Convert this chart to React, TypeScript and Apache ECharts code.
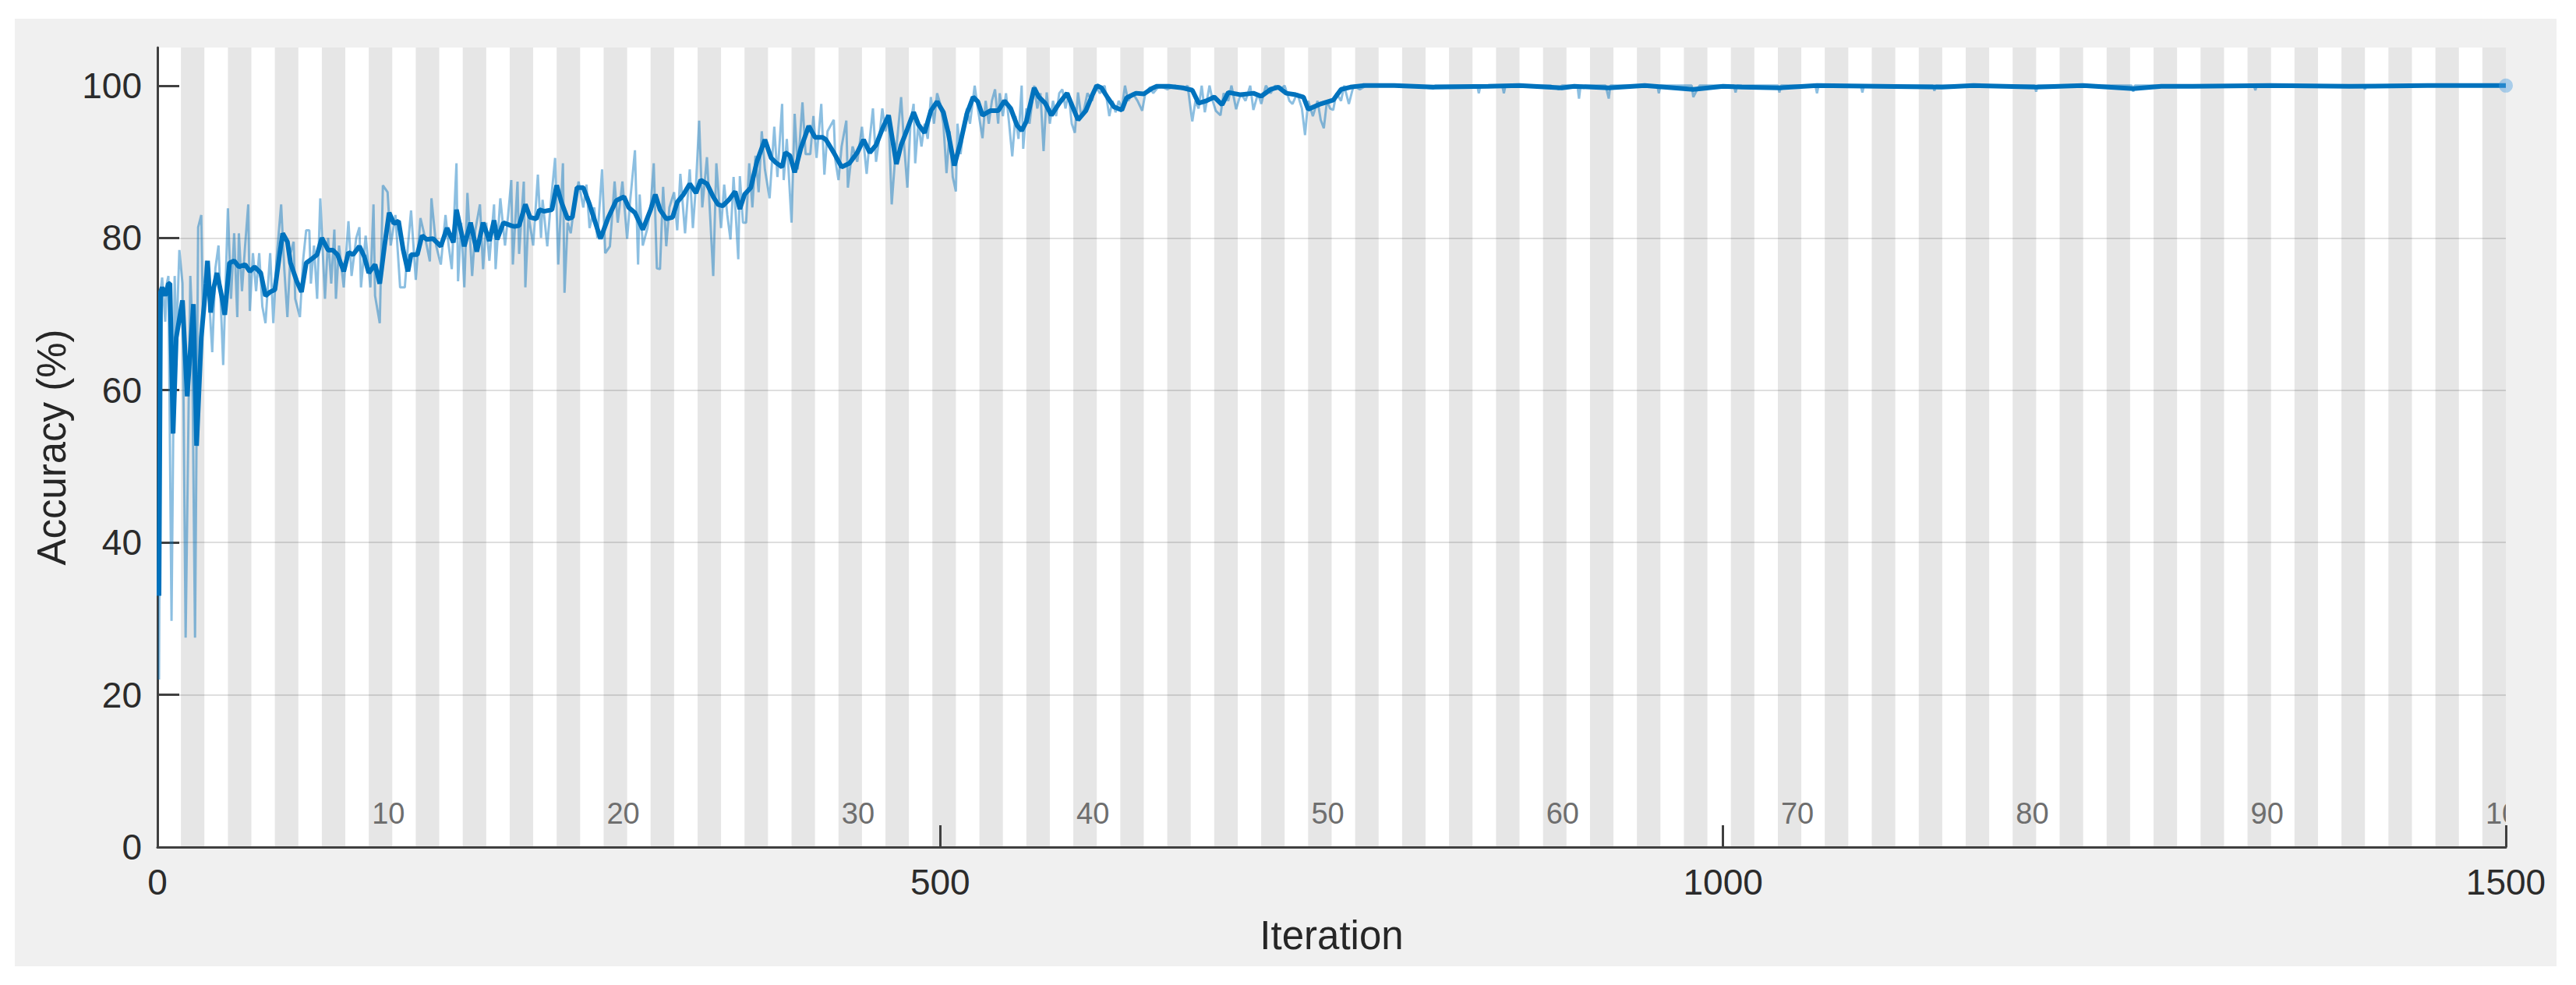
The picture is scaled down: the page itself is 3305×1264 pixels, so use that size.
import React, { useEffect, useRef } from "react";
import * as echarts from "echarts";

// ---- axes / epochs ----
const xMin = 0;
const xMax = 1500;
const xInterval = 500;
const yMin = 0;
const yMax = 105;
const yInterval = 20;
const yTickValues = [0, 20, 40, 60, 80, 100];
const epochCount = 100;
const itersPerEpoch = 15;
const epochLabels = [10, 20, 30, 40, 50, 60, 70, 80, 90, 100];

// ---- smoothed training accuracy [iteration, %] ----
const smoothEarly = [
  [1, 33], [2, 72.9], [3, 73.5], [5, 72.4], [7, 74], [8, 74], [10, 54.3], [12, 66.9], [16, 71.8], [19, 59.2],
  [23, 71.3], [25, 52.7], [28, 66.9], [31, 74], [32, 77], [34, 70.2], [36, 73.5], [38, 75.4], [41, 72.4], [43, 69.9],
  [46, 76.7], [49, 77], [52, 76.2], [56, 76.5], [59, 75.6], [62, 76.2], [66, 75.4], [69, 72.4], [72, 72.9], [75, 73.2],
  [78, 77.8], [80, 80.6], [83, 79.5], [85, 76.7], [89, 74.3], [92, 72.9], [95, 76.7], [99, 77.3], [102, 77.8], [105, 80],
  [109, 78.4], [112, 78.4], [115, 77.8], [119, 75.6], [122, 78.1], [125, 77.8], [129, 78.9], [132, 77.6], [135, 75.4],
  [139, 76.5], [142, 74], [145, 78.9], [148, 83.3], [151, 81.9], [154, 82.2], [157, 78.4], [160, 75.6], [162, 77.8],
  [166, 77.8], [169, 80.3],
];
const smoothMid = [
  [172, 79.8], [176, 79.9], [181, 78.9], [185, 81.3], [189, 79.4], [191, 83.7], [196, 78.9], [200, 82], [204, 78.2],
  [208, 82], [212, 79.6], [215, 82.3], [217, 79.8], [221, 82], [226, 81.6], [228, 81.5], [231, 81.6], [235, 84.4],
  [238, 82.7], [242, 82.5], [244, 83.7], [247, 83.5], [252, 83.7], [255, 86.9], [258, 84.7], [262, 82.5], [265, 82.7],
  [268, 86.6], [272, 86.6], [276, 84.4], [283, 79.9], [288, 82.7], [293, 84.9], [298, 85.4], [301, 84], [305, 83.3],
  [310, 81.1], [315, 83.7], [318, 85.7], [321, 83.7], [325, 82.5], [329, 82.7], [332, 84.7], [336, 85.7], [340, 87.1],
  [344, 85.9], [347, 87.6], [351, 87.1], [355, 85.4], [358, 84.4], [361, 84.2], [365, 85], [369, 86.1], [372, 83.8],
  [375, 85.7], [379, 86.6], [383, 90.1], [388, 92.9], [392, 90.5], [395, 89.9], [399, 89.3], [401, 91.2], [404, 90.8],
  [407, 88.6], [411, 91.8], [416, 94.7], [420, 93.2], [425, 93.2],
];
const smoothLate = [
  [427, 92.9], [432, 91.2], [437, 89.3], [442, 89.8], [447, 91.2], [451, 92.9], [455, 91.2], [459, 92.2], [463, 94.3],
  [467, 96.1], [472, 89.7], [475, 92.2], [479, 94.3], [483, 96.5], [486, 94.9], [490, 93.8], [494, 96.7], [498, 97.9],
  [502, 96.5], [505, 93.9], [509, 89.5], [513, 92.6], [517, 96.3], [521, 98.5], [524, 97.9], [527, 96.1], [532, 96.7],
  [537, 96.7], [541, 98], [545, 97], [549, 94.8], [552, 94.1], [555, 95.3], [560, 99.7], [563, 98.5], [567, 97.7],
  [571, 96.1], [576, 97.7], [581, 99], [584, 97.5], [588, 95.5], [593, 96.7], [597, 98.7], [600, 100], [603, 99.7],
  [607, 98.4], [611, 97.2], [616, 96.8], [619, 98.4], [625, 99], [630, 98.9], [635, 99.6], [638, 99.9], [646, 99.9],
  [655, 99.7], [661, 99.4], [665, 97.7], [670, 98], [675, 98.5], [680, 97.5],
];
const smoothTail = [
  [684, 99.1], [692, 98.8], [700, 99], [705, 98.6], [711, 99.5], [716, 99.8], [721, 99], [727, 98.8], [732, 98.5],
  [735, 96.9], [743, 97.6], [751, 98.1], [756, 99.5], [762, 99.8], [770, 100], [790, 100], [815, 99.8], [850, 99.9],
  [870, 100], [897, 99.7], [905, 99.9], [927, 99.7], [950, 100], [981, 99.5], [1000, 99.9], [1012, 99.8], [1036, 99.7],
  [1060, 100], [1100, 99.9], [1140, 99.8], [1160, 100], [1200, 99.8], [1230, 100], [1262, 99.6], [1280, 99.9],
  [1300, 99.9], [1350, 100], [1400, 99.9], [1450, 100], [1500, 100],
];

// ---- raw (per-iteration) training accuracy [iteration, %] ----
const rawEarly = [
  [1, 22], [2, 73], [3, 74.8], [5, 69], [6, 74], [7, 75], [9, 29.7], [11, 75], [12, 66], [14, 78.4], [16, 74], [18, 27.5],
  [21, 75], [22, 70], [24, 27.5], [26, 81.4], [28, 83], [29, 70], [31, 77], [33, 72], [35, 65], [37, 76], [39, 79],
  [42, 63.3], [45, 83.9], [47, 72], [49, 80.6], [51, 69.6], [52, 80.6], [54, 73], [56, 79], [58, 84.4], [59, 70.4],
  [61, 78], [63, 73], [65, 78], [67, 71], [69, 68.8], [71, 75], [72, 78], [74, 68.8], [76, 77], [79, 84.4], [81, 76],
  [83, 69.6], [85, 78], [87, 79.5], [88, 72], [91, 69.6], [93, 77], [95, 81], [97, 81], [98, 74], [100, 79], [102, 72],
  [104, 85.2], [107, 72], [109, 80], [111, 74], [113, 81.1], [114, 72], [116, 79], [119, 73.5], [122, 82.2], [124, 75],
  [127, 80], [129, 81.4], [130, 73.5], [133, 80.3], [136, 73.5], [138, 84.4], [139, 72.4], [142, 68.8], [144, 86.9],
  [147, 86], [149, 79], [152, 83], [155, 73.5], [158, 73.5], [160, 79], [162, 83.6], [165, 74.5], [168, 82.6],
];
const rawMid = [
  [171, 80], [174, 76.9], [175, 85.2], [178, 79], [181, 76.5], [184, 83], [186, 79], [188, 75.9], [191, 89.8], [192, 74.3],
  [194, 82], [196, 73.5], [198, 85.9], [201, 75], [203, 81], [206, 84.4], [208, 75.9], [210, 82], [212, 77], [215, 84.4],
  [216, 75.9], [219, 85.2], [222, 79], [224, 83], [226, 87.6], [227, 76.5], [230, 87.4], [231, 77.9], [234, 87.4],
  [235, 73.5], [237, 83], [240, 79], [243, 88.3], [245, 80], [246, 85], [249, 78.9], [251, 84], [254, 90.5], [256, 76.5],
  [259, 89.8], [260, 72.8], [262, 82], [264, 80.6], [266, 84], [269, 87.4], [272, 84], [274, 87], [276, 81.3], [279, 84],
  [281, 80], [284, 89], [286, 78], [289, 78.9], [292, 87.4], [294, 82], [297, 87.4], [300, 79.9], [302, 85], [305, 91.5],
  [307, 76.5], [308, 85.7], [310, 79], [313, 81.3], [315, 84], [317, 89.8], [319, 76], [321, 75.9], [323, 86.7],
  [325, 78.9], [327, 84], [330, 86], [332, 81], [334, 88.4], [337, 80.6], [340, 89], [342, 81.3], [344, 87], [346, 95.4],
  [348, 84], [351, 90.6], [353, 83], [355, 75], [357, 89.8], [360, 81.3], [362, 87], [364, 83], [366, 79.8], [368, 88],
  [371, 77.2], [372, 88.1], [374, 82], [376, 82], [378, 89.8], [380, 84], [382, 90.8], [384, 86], [386, 94], [388, 89],
  [391, 85.2], [394, 94.6], [396, 88], [399, 97.6], [400, 87.6], [402, 93], [405, 82], [407, 96.3], [409, 89], [412, 97.8],
  [414, 91], [417, 91], [419, 96], [421, 90.5], [424, 97.6], [426, 88.3],
];
const rawLate = [
  [428, 94], [432, 95.5], [433, 90.2], [435, 87.6], [437, 92], [440, 95.4], [441, 86.6], [444, 92], [447, 90], [450, 94.6],
  [453, 88.4], [455, 93], [457, 97], [459, 90], [461, 93], [463, 97], [465, 94], [467, 96], [469, 84.4], [471, 90],
  [473, 94], [475, 98.5], [477, 92], [479, 86.6], [481, 95], [483, 97.6], [484, 89.8], [486, 95], [488, 92], [490, 95],
  [492, 93], [494, 98.5], [496, 95], [498, 99], [500, 97.6], [502, 95], [504, 88.5], [506, 94], [508, 88], [510, 86.1],
  [511, 95], [513, 91], [515, 94.7], [517, 97], [519, 95], [522, 100], [524, 97], [527, 93.1], [529, 98], [531, 95],
  [533, 98], [535, 99.5], [537, 95], [538, 99], [540, 96], [542, 99], [544, 95], [546, 90.7], [548, 96], [550, 93],
  [552, 100], [553, 91.7], [555, 97], [557, 95], [560, 100], [562, 97], [564, 99], [566, 91.4], [568, 99.1], [570, 95],
  [572, 98], [574, 96], [576, 99], [578, 99.5], [580, 97], [582, 99], [584, 95], [586, 93.8], [588, 99.1], [590, 96],
  [592, 97], [594, 99], [597, 98], [599, 100], [602, 99], [605, 100], [608, 96], [610, 98], [612, 96.5], [614, 98],
  [616, 97], [618, 100], [620, 98], [623, 99], [626, 98], [629, 96.7], [631, 99], [634, 99.8], [636, 99], [640, 100],
  [645, 99.5], [650, 100], [655, 99.5], [658, 100], [661, 95.3], [663, 98], [665, 97], [667, 100], [669, 96.5],
  [672, 100], [674, 98], [676, 96.7],
];
const rawTail = [
  [679, 96.1], [681, 99], [684, 98], [686, 100], [689, 96.9], [692, 99], [695, 98], [698, 100], [700, 96.8], [703, 99],
  [705, 97.6], [708, 100], [711, 99], [714, 100], [717, 99.5], [720, 100], [723, 98], [725, 97.6], [728, 99], [731, 97],
  [733, 93.5], [735, 98], [738, 96], [741, 98], [743, 95.5], [745, 94.4], [747, 98], [749, 97], [751, 96.8], [753, 99],
  [756, 98], [758, 100], [761, 97.6], [764, 100], [768, 99.5], [772, 100], [800, 100], [815, 99.6], [816, 100],
  [843, 100], [844, 99], [845, 100], [859, 100], [860, 99], [861, 100], [890, 100], [895, 99.5], [897, 100], [907, 100],
  [908, 98.3], [909, 100], [925, 100], [927, 98.3], [928, 100], [958, 100], [959, 99], [960, 100], [980, 100],
  [981, 98.5], [983, 99.3], [985, 100], [1007, 100], [1008, 99.1], [1009, 100], [1035, 100], [1036, 99.1], [1037, 100],
  [1059, 100], [1060, 99], [1061, 100], [1088, 100], [1089, 99.1], [1090, 100], [1134, 100], [1135, 99.3], [1136, 100],
  [1199, 100], [1200, 99.2], [1201, 100], [1261, 100], [1262, 99.2], [1263, 100], [1339, 100], [1340, 99.4],
  [1341, 100], [1409, 100], [1410, 99.5], [1411, 100], [1500, 100],
];
const finalPoint = [[1500, 100]];

const FONT = '"Liberation Sans", Arial, Helvetica, sans-serif';

export default function App() {
  const ref = useRef<HTMLDivElement>(null);

  useEffect(() => {
    if (!ref.current) return;
    const chart = echarts.init(ref.current, null, { renderer: "svg" });
    const epochs = Array.from({ length: epochCount }, (_, i) => [i + 1, 0]);
    const smooth = [...smoothEarly, ...smoothMid, ...smoothLate, ...smoothTail];
    const raw = [...rawEarly, ...rawMid, ...rawLate, ...rawTail];

    chart.setOption({
      animation: false,
      backgroundColor: "transparent",
      grid: { left: 202, right: 90, top: 61, bottom: 177, containLabel: false },
      xAxis: {
        type: "value",
        min: xMin,
        max: xMax,
        interval: xInterval,
        name: "Iteration",
        nameLocation: "middle",
        nameGap: 88,
        nameTextStyle: { fontSize: 51, color: "#262626", fontFamily: FONT },
        axisLine: { show: true, onZero: false, lineStyle: { color: "#404040", width: 3 } },
        axisTick: { show: true, inside: true, length: 28, lineStyle: { color: "#404040", width: 3 } },
        axisLabel: {
          fontSize: 46,
          color: "#2b2b2b",
          margin: 22,
          fontFamily: FONT,
          formatter: (v: number) => String(v),
        },
        splitLine: { show: false },
      },
      yAxis: {
        type: "value",
        min: yMin,
        max: yMax,
        interval: yInterval,
        name: "Accuracy (%)",
        nameLocation: "middle",
        nameRotate: 90,
        nameGap: 110,
        nameTextStyle: { fontSize: 51, color: "#262626", fontFamily: FONT },
        axisLine: { show: true, onZero: false, lineStyle: { color: "#404040", width: 3 } },
        axisTick: {
          show: true,
          inside: true,
          length: 28,
          customValues: yTickValues,
          lineStyle: { color: "#404040", width: 3 },
        },
        axisLabel: {
          fontSize: 46,
          color: "#2b2b2b",
          margin: 20,
          fontFamily: FONT,
          customValues: yTickValues,
          formatter: (v: number) => (yTickValues.indexOf(v) >= 0 ? String(v) : ""),
        },
        splitLine: {
          show: true,
          showMinLine: false,
          showMaxLine: false,
          lineStyle: { color: "rgba(38,38,38,0.15)", width: 2 },
        },
      },
      series: [
        {
          type: "custom",
          name: "epochs",
          silent: true,
          z: -1,
          clip: true,
          encode: { x: 0, y: 1 },
          data: epochs,
          renderItem: (params: any, api: any) => {
            const k = api.value(0);
            const p0 = api.coord([(k - 1) * itersPerEpoch, yMax]);
            const p1 = api.coord([k * itersPerEpoch, yMin]);
            return {
              type: "rect",
              shape: { x: p0[0], y: p0[1], width: p1[0] - p0[0] + 0.5, height: p1[1] - p0[1] },
              style: { fill: k % 2 === 0 ? "#e6e6e6" : "#ffffff" },
            };
          },
        },
        {
          type: "custom",
          name: "epochLabels",
          silent: true,
          z: 1,
          clip: true,
          encode: { x: 0, y: 1 },
          data: epochLabels.map((k) => [(k - 1) * itersPerEpoch + 2, 4.4, k]),
          renderItem: (params: any, api: any) => {
            const p = api.coord([api.value(0), api.value(1)]);
            return {
              type: "text",
              x: p[0],
              y: p[1],
              style: {
                text: String(api.value(2)),
                fill: "#6e6e6e",
                fontSize: 38,
                fontFamily: FONT,
                align: "left",
                verticalAlign: "middle",
              },
            };
          },
        },
        {
          type: "line",
          name: "raw",
          data: raw,
          showSymbol: false,
          symbol: "none",
          clip: true,
          z: 2,
          lineStyle: { color: "rgba(0,114,189,0.45)", width: 3 },
        },
        {
          type: "line",
          name: "smoothed",
          data: smooth,
          showSymbol: false,
          symbol: "none",
          clip: true,
          z: 3,
          lineStyle: { color: "#0072BD", width: 6 },
        },
        {
          type: "scatter",
          name: "final",
          data: finalPoint,
          symbolSize: 18,
          clip: false,
          z: 4,
          itemStyle: { color: "rgba(77,160,225,0.55)" },
        },
      ],
    });

    return () => chart.dispose();
  }, []);

  return (
    <div style={{ position: "fixed", left: 0, top: 0, width: 3305, height: 1264, background: "#ffffff" }}>
      <div style={{ position: "absolute", left: 19, top: 24, width: 3261, height: 1216, background: "#f0f0f0" }} />
      <div ref={ref} style={{ position: "absolute", left: 0, top: 0, width: 3305, height: 1264 }} />
    </div>
  );
}
